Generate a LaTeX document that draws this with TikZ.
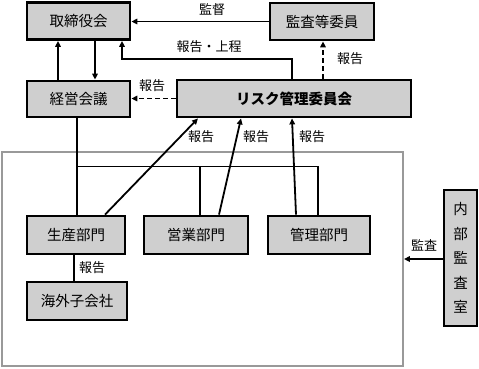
\documentclass[tikz,border=0pt]{standalone}
\usepackage{fontspec}
\newfontfamily\jp{Noto Sans CJK JP}
\usetikzlibrary{arrows.meta}
\begin{document}
\begin{tikzpicture}[x=1pt,y=-1pt,
  box/.style={draw=black,line width=2.8pt,fill=black!19,inner sep=0pt,font=\jp\fontsize{14.5}{16}\selectfont},
  area/.style={draw=black!40,line width=1.8pt,inner sep=0pt},
  conn/.style={line width=1.8pt},
  arr/.style={line width=1.8pt,-{Triangle[length=6pt,width=5.5pt]}},
  dsh/.style={dash pattern=on 5pt off 3pt},
  lbl/.style={font=\jp\fontsize{13}{14}\selectfont,inner sep=0pt}]
\useasboundingbox (0,0) rectangle (479,368);
\node[area,minimum width=401pt,minimum height=214pt] (grp) at (202.5,259) {};
\node[box,minimum width=103pt,minimum height=37pt] (tori) at (78.5,21) {取締役会};
\node[box,minimum width=104pt,minimum height=37pt] (kansa) at (322,21.5) {監査等委員};
\node[box,minimum width=103pt,minimum height=36pt] (keiei) at (78.5,99) {経営会議};
\node[box,minimum width=234pt,minimum height=37pt,font=\jp\bfseries\fontsize{14.5}{16}\selectfont] (risk) at (294,98.5) {リスク管理委員会};
\node[box,minimum width=98pt,minimum height=38pt] (seisan) at (76,235) {生産部門};
\node[box,minimum width=104pt,minimum height=38pt] (eigyo) at (196,235) {営業部門};
\node[box,minimum width=102pt,minimum height=38pt] (kanri) at (319,235) {管理部門};
\node[box,minimum width=100pt,minimum height=38pt] (kaigai) at (77,301) {海外子会社};
\node[box,minimum width=33pt,minimum height=136pt,align=center,font=\jp\fontsize{14.5}{24.5}\selectfont] (naibu) at (460.5,258) {内\\部\\監\\査\\室};
% top connectors
\draw[arr] ([xshift=-20.5pt]keiei.north) -- ([xshift=-20.5pt]tori.south);
\draw[arr] ([xshift=16.5pt]tori.south) -- ([xshift=16.5pt]keiei.north);
\draw[arr] (kansa.west) -- (kansa.west -| tori.east);
\node[lbl] (l1) at (212,10) {監督};
\draw[arr] ([xshift=-2pt]risk.north) -- ++(0,-19.5) -| ([xshift=43.5pt]tori.south);
\node[lbl] (l2) at (209,47) {報告・上程};
\draw[arr,dsh] ([xshift=29pt]risk.north) -- ([xshift=29pt]risk.north |- kansa.south);
\node[lbl] (l3) at (350,59) {報告};
\draw[arr,dsh] (risk.west) -- (risk.west -| keiei.east);
\node[lbl] (l4) at (152,86) {報告};
% tree
\draw[conn] ([xshift=-1.5pt]keiei.south) -- ++(0,48) coordinate (j1) -| ([xshift=-1pt]kanri.north);
\draw[conn] (j1) -- (j1 |- seisan.north);
\coordinate (e1) at ([xshift=4pt]eigyo.north);
\draw[conn] (e1) -- (e1 |- j1);
% reports to risk
\draw[arr] ([xshift=29pt]seisan.north) -- ([xshift=-96pt]risk.south);
\draw[arr] ([xshift=23pt]eigyo.north) -- ([xshift=-53pt]risk.south);
\draw[arr] ([xshift=-23pt]kanri.north) -- ([xshift=-2pt]risk.south);
\node[lbl] (l5) at (201,137) {報告};
\node[lbl] (l6) at (256,137) {報告};
\node[lbl] (l7) at (312,137) {報告};
% subsidiary
\draw[conn] ([xshift=-2pt]seisan.south) -- ([xshift=-2pt]seisan.south |- kaigai.north);
\node[lbl] (l8) at (92,268) {報告};
% internal audit
\draw[arr] (naibu.west |- 0,259) -- (grp.east |- 0,259);
\node[lbl] (l9) at (424,245) {監査};
\end{tikzpicture}
\end{document}
